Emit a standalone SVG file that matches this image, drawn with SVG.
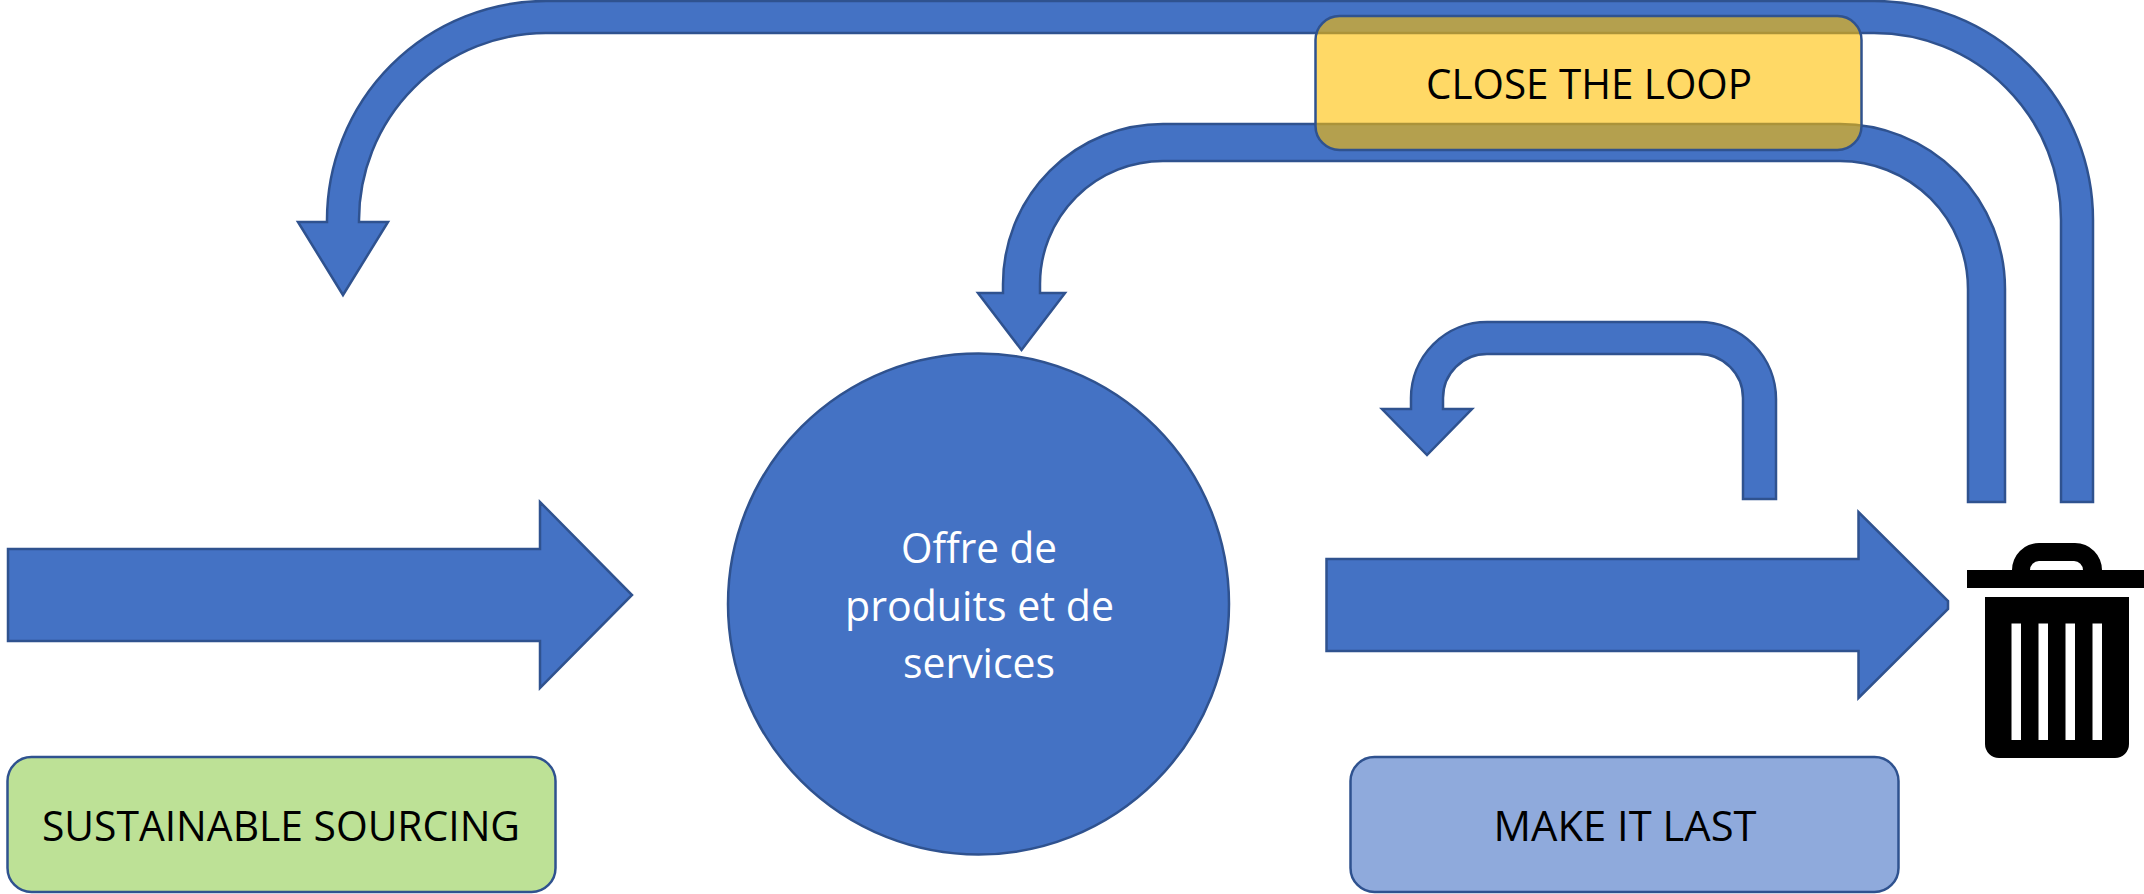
<svg xmlns="http://www.w3.org/2000/svg" width="2144" height="894" viewBox="0 0 2144 894">
<style>
.a{fill:#4472C4;stroke:#2F528F;stroke-width:2.5;stroke-linejoin:miter}
.b{stroke:#2F528F;stroke-width:2.5}
.t{font-family:"Open Sans","Noto Sans",sans-serif;font-size:42px;fill:#000;text-anchor:middle}
.w{font-family:"Open Sans","Noto Sans",sans-serif;font-size:42px;fill:#fff;text-anchor:middle}
</style>
<rect width="2144" height="894" fill="#fff"/>
<g id="connectors">
<path class="a" d="M8 549H540V502L632 595L540 688V641H8Z"/>
<path class="a" d="M1326.500 559H1858.500V512L1948 601V609L1858.500 698V651H1326.500Z"/>
<path class="a" d="M2061 502V220A187 187 0 0 0 1874 33H546A187 187 0 0 0 359 220V222H388L343 295L298 222H327V220A219 219 0 0 1 546 1H1874A219 219 0 0 1 2093 220V502Z"/>
<path class="a" d="M1968 502V289A128 128 0 0 0 1840 161H1163A123 123 0 0 0 1040 284V293H1065L1021.500 350L978 293H1003V284A160 160 0 0 1 1163 124H1840A165 165 0 0 1 2005 289V502Z"/>
<path class="a" d="M1743 499V398A44 44 0 0 0 1699 354H1487A44 44 0 0 0 1443 398V409H1472L1427 455L1382 409H1411V398A76 76 0 0 1 1487 322H1699A77 77 0 0 1 1776 399V499Z"/>
</g>
<g id="product"><circle class="a" cx="978.500" cy="604" r="250.500"/>
<text class="w" x="979" y="563" textLength="156" lengthAdjust="spacingAndGlyphs">Offre de</text><text class="w" x="979.500" y="620.500" textLength="269" lengthAdjust="spacingAndGlyphs">produits et de</text><text class="w" x="979" y="678" textLength="152" lengthAdjust="spacingAndGlyphs">services</text></g>
<g id="sourcing"><rect class="b" x="7.500" y="757" width="548" height="135" rx="24" fill="#BDE196"/>
<text class="t" x="281" y="841" textLength="478" lengthAdjust="spacingAndGlyphs">SUSTAINABLE SOURCING</text></g>
<g id="last"><rect class="b" x="1350.500" y="757" width="548" height="135" rx="24" fill="#8FAADC"/>
<text class="t" x="1625" y="841" textLength="263" lengthAdjust="spacingAndGlyphs">MAKE IT LAST</text></g>
<g id="loop"><rect class="b" x="1315.500" y="16" width="546" height="134" rx="24" fill="#FFC000" fill-opacity=".6"/>
<text class="t" x="1589" y="99" textLength="326" lengthAdjust="spacingAndGlyphs">CLOSE THE LOOP</text></g>
<g id="trash" fill="#000">
<path fill-rule="evenodd" d="M1967 570H2012A27 27 0 0 1 2039 543H2075A27 27 0 0 1 2102 570H2144V588H1967ZM2030 570H2083A9 9 0 0 0 2074 561H2039A9 9 0 0 0 2030 570Z"/>
<path fill-rule="evenodd" d="M1985 597H2129V744A14 14 0 0 1 2115 758H1999A14 14 0 0 1 1985 744ZM2011.500 623.500V740H2021V623.500ZM2038.500 623.500V740H2048V623.500ZM2065.500 623.500V740H2075V623.500ZM2092.500 623.500V740H2102V623.500Z"/>
</g>
</svg>
